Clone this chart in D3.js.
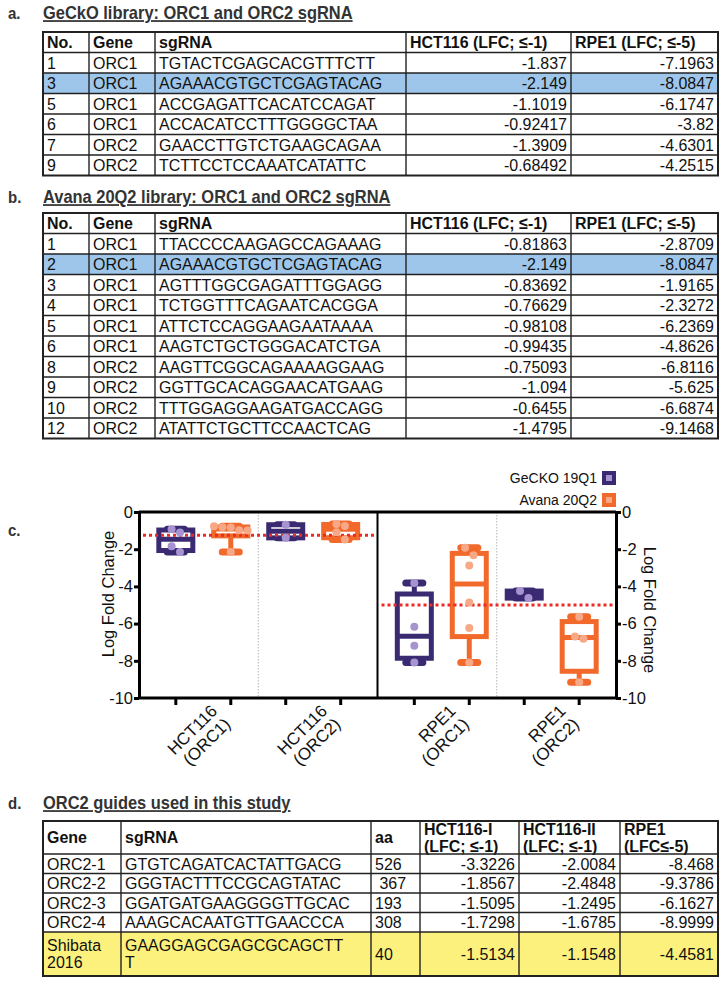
<!DOCTYPE html>
<html><head><meta charset="utf-8">
<script src="https://cdn.jsdelivr.net/npm/d3@7"></script>
<style>
body{margin:0;background:#fff}
svg{display:block}
text{font-family:"Liberation Sans",Arial,Helvetica,sans-serif}
</style>
</head><body>
<svg id="chart" width="728" height="985"></svg>
<script>
// ---------------- DATA ----------------
const abColumns = ["No.", "Gene", "sgRNA", "HCT116 (LFC; ≤-1)", "RPE1 (LFC; ≤-5)"];

const geckoNo = ["1", "3", "5", "6", "7", "9"];
const geckoGene = ["ORC1", "ORC1", "ORC1", "ORC1", "ORC2", "ORC2"];
const geckoSgRNA = ["TGTACTCGAGCACGTTTCTT", "AGAAACGTGCTCGAGTACAG", "ACCGAGATTCACATCCAGAT",
  "ACCACATCCTTTGGGGCTAA", "GAACCTTGTCTGAAGCAGAA", "TCTTCCTCCAAATCATATTC"];
const geckoHCT116 = [-1.837, -2.149, -1.1019, -0.92417, -1.3909, -0.68492];
const geckoRPE1 = [-7.1963, -8.0847, -6.1747, -3.82, -4.6301, -4.2515];

const avanaNo = ["1", "2", "3", "4", "5", "6", "8", "9", "10", "12"];
const avanaGene = ["ORC1", "ORC1", "ORC1", "ORC1", "ORC1", "ORC1", "ORC2", "ORC2", "ORC2", "ORC2"];
const avanaSgRNA = ["TTACCCCAAGAGCCAGAAAG", "AGAAACGTGCTCGAGTACAG", "AGTTTGGCGAGATTTGGAGG",
  "TCTGGTTTCAGAATCACGGA", "ATTCTCCAGGAAGAATAAAA", "AAGTCTGCTGGGACATCTGA",
  "AAGTTCGGCAGAAAAGGAAG", "GGTTGCACAGGAACATGAAG", "TTTGGAGGAAGATGACCAGG", "ATATTCTGCTTCCAACTCAG"];
const avanaHCT116 = [-0.81863, -2.149, -0.83692, -0.76629, -0.98108, -0.99435, -0.75093, -1.094, -0.6455, -1.4795];
const avanaRPE1 = [-2.8709, -8.0847, -1.9165, -2.3272, -6.2369, -4.8626, -6.8116, -5.625, -6.6874, -9.1468];

const dColumns = ["Gene", "sgRNA", "aa", "HCT116-I\n(LFC; ≤-1)", "HCT116-II\n(LFC; ≤-1)", "RPE1\n(LFC≤-5)"];
const guideGene = ["ORC2-1", "ORC2-2", "ORC2-3", "ORC2-4", "Shibata\n2016"];
const guideSgRNA = ["GTGTCAGATCACTATTGACG", "GGGTACTTTCCGCAGTATAC", "GGATGATGAAGGGGTTGCAC",
  "AAAGCACAATGTTGAACCCA", "GAAGGAGCGAGCGCAGCTT\nT"];
const guideAA = ["526", " 367", "193", "308", "40"];
const guideHCT116I = [-3.3226, -1.8567, -1.5095, -1.7298, -1.5134];
const guideHCT116II = [-2.0084, -2.4848, -1.2495, -1.6785, -1.1548];
const guideRPE1 = [-8.468, -9.3786, -6.1627, -8.9999, -4.4581];

const cellLines = ["HCT116", "RPE1"];
const genes = ["ORC1", "ORC2"];
const libraries = ["GeCKO 19Q1", "Avana 20Q2"];
const thresholds = [-1.25, -5];
const yTicks = [0, -2, -4, -6, -8, -10];

// ---------------- STYLE / LAYOUT ----------------
const libColor = {"GeCKO 19Q1": "#3a2a72", "Avana 20Q2": "#f26a2b"};
const libLight = {"GeCKO 19Q1": "#a793d0", "Avana 20Q2": "#f7a887"};
const svg = d3.select("#chart");
const SX = 0.94; // slightly condensed lettering, as in the figure

function narrowText(parent, x, y, str, size, bold, anchor, fill) {
  return parent.append("text")
    .attr("transform", `translate(${x},${y}) scale(${SX},1)`)
    .attr("dy", "0.35em").attr("font-size", size)
    .attr("font-weight", bold ? "bold" : "normal")
    .attr("text-anchor", anchor || "start")
    .attr("fill", fill || "#111")
    .style("white-space", "pre").text(str);
}

function sectionTitle(letter, title, y) {
  narrowText(svg, 8, y, letter, 16, true, "start", "#333");
  narrowText(svg, 43, y, title, 17.5, true, "start", "#333").style("text-decoration", "underline");
}

function drawTable(o) {
  const g = svg.append("g");
  const cols = o.cols;
  let yy = o.top + o.headerH;
  const rowTops = o.rowH.map(h => { const t = yy; yy += h; return t; });
  const bottom = yy;
  if (o.highlight != null) {
    g.append("rect").attr("x", cols[0]).attr("y", rowTops[o.highlight])
      .attr("width", cols[cols.length - 1] - cols[0]).attr("height", o.rowH[o.highlight])
      .attr("fill", o.hlColor);
  }
  const lineH = 17;
  function cellText(str, j, cy, bold, align) {
    const lines = String(str).split("\n");
    const x = align === "end" ? cols[j + 1] - 4 : cols[j] + 4;
    lines.forEach((ln, k) => {
      narrowText(g, x, cy + (k - (lines.length - 1) / 2) * lineH, ln, 17, bold, align);
    });
  }
  o.header.forEach((h, j) => cellText(h, j, o.top + o.headerH / 2, true, "start"));
  o.rows.forEach((row, i) => row.forEach((c, j) =>
    cellText(c, j, rowTops[i] + o.rowH[i] / 2, false, o.aligns[j])));
  const hs = [o.top, o.top + o.headerH, ...rowTops.slice(1), bottom];
  hs.forEach((h, k) => g.append("line").attr("x1", cols[0] - 1).attr("x2", cols[cols.length - 1] + 1)
    .attr("y1", h).attr("y2", h).attr("stroke", "#222")
    .attr("stroke-width", (k === 0 || k === hs.length - 1) ? 2 : 1.4));
  cols.forEach((xx, k) => g.append("line").attr("x1", xx).attr("x2", xx)
    .attr("y1", o.top).attr("y2", bottom).attr("stroke", "#222")
    .attr("stroke-width", (k === 0 || k === cols.length - 1) ? 2 : 1.4));
}

const fmt = v => String(v);

// ---------- a ----------
sectionTitle("a.", "GeCkO library: ORC1 and ORC2 sgRNA", 13);
drawTable({
  top: 32, headerH: 20.5, rowH: geckoNo.map(() => 20.5),
  cols: [43, 89, 155, 406, 571, 718],
  header: abColumns,
  rows: geckoNo.map((n, i) => [n, geckoGene[i], geckoSgRNA[i], fmt(geckoHCT116[i]), fmt(geckoRPE1[i])]),
  aligns: ["start", "start", "start", "end", "end"],
  highlight: 1, hlColor: "#9ec6ea"
});

// ---------- b ----------
sectionTitle("b.", "Avana 20Q2 library: ORC1 and ORC2 sgRNA", 197);
drawTable({
  top: 213, headerH: 20.5, rowH: avanaNo.map(() => 20.5),
  cols: [43, 89, 155, 406, 571, 718],
  header: abColumns,
  rows: avanaNo.map((n, i) => [n, avanaGene[i], avanaSgRNA[i], fmt(avanaHCT116[i]), fmt(avanaRPE1[i])]),
  aligns: ["start", "start", "start", "end", "end"],
  highlight: 1, hlColor: "#9ec6ea"
});

// ---------- c : box plot ----------
narrowText(svg, 8, 530, "c.", 16, true, "start", "#333");

const y = d3.scaleLinear().domain([-10, 0]).range([698, 512]);
const panelX = d3.scaleBand().domain(cellLines).range([139, 616]);
const boxKeys = [];
genes.forEach(g => libraries.forEach(l => boxKeys.push(g + "|" + l)));
const boxX = d3.scalePoint().domain(boxKeys).range([0, panelX.bandwidth()]).padding(0.67);

const source = {
  "GeCKO 19Q1": {gene: geckoGene, HCT116: geckoHCT116, RPE1: geckoRPE1},
  "Avana 20Q2": {gene: avanaGene, HCT116: avanaHCT116, RPE1: avanaRPE1}
};

function prismQuantile(s, p) {
  const n = s.length, pos = (n + 1) * p;
  if (pos <= 1) return s[0];
  if (pos >= n) return s[n - 1];
  const lo = Math.floor(pos);
  return s[lo - 1] + (pos - lo) * (s[lo] - s[lo - 1]);
}

const plot = svg.append("g");
cellLines.forEach(c => {
  const xm = panelX(c) + panelX.bandwidth() / 2;
  plot.append("line").attr("x1", xm).attr("x2", xm).attr("y1", y(0)).attr("y2", y(-10))
    .attr("stroke", "#b5b5b5").attr("stroke-width", 1).attr("stroke-dasharray", "1.5 1.5");
});

const boxes = [];
cellLines.forEach(c => genes.forEach(gn => libraries.forEach(lib => {
  const src = source[lib];
  const vals = src[c].filter((v, i) => src.gene[i] === gn);
  const s = vals.slice().sort((a, b) => a - b);
  boxes.push({c, gn, lib, vals,
    min: s[0], max: s[s.length - 1],
    q1: prismQuantile(s, 0.25), med: prismQuantile(s, 0.5), q3: prismQuantile(s, 0.75),
    cx: panelX(c) + boxX(gn + "|" + lib)});
})));

const halfW = 17, capHalf = 8.5;
boxes.forEach(b => {
  const col = libColor[b.lib];
  const g = plot.append("g");
  g.append("line").attr("x1", b.cx).attr("x2", b.cx).attr("y1", y(b.max)).attr("y2", y(b.q3))
    .attr("stroke", col).attr("stroke-width", 5);
  g.append("line").attr("x1", b.cx).attr("x2", b.cx).attr("y1", y(b.q1)).attr("y2", y(b.min))
    .attr("stroke", col).attr("stroke-width", 5);
  [b.max, b.min].forEach(v => g.append("line")
    .attr("x1", b.cx - capHalf).attr("x2", b.cx + capHalf).attr("y1", y(v)).attr("y2", y(v))
    .attr("stroke", col).attr("stroke-width", 7).attr("stroke-linecap", "round"));
  g.append("rect").attr("x", b.cx - halfW).attr("width", halfW * 2)
    .attr("y", y(b.q3)).attr("height", Math.max(0, y(b.q1) - y(b.q3)))
    .attr("fill", "#fff").attr("stroke", col).attr("stroke-width", 5);
  g.append("line").attr("x1", b.cx - halfW).attr("x2", b.cx + halfW)
    .attr("y1", y(b.med)).attr("y2", y(b.med)).attr("stroke", col).attr("stroke-width", 5);
});

cellLines.forEach((c, i) => {
  plot.append("line").attr("x1", panelX(c) + 4).attr("x2", panelX(c) + panelX.bandwidth())
    .attr("y1", y(thresholds[i])).attr("y2", y(thresholds[i]))
    .attr("stroke", "#ee2a24").attr("stroke-width", 3).attr("stroke-dasharray", "3 3");
});

const r = 4;
boxes.forEach(b => {
  const pts = b.vals.map(v => ({v, py: y(v)})).sort((a, c) => a.py - c.py);
  const clusters = [];
  pts.forEach(p => {
    const last = clusters[clusters.length - 1];
    if (last && p.py - last[0].py < 2 * r) last.push(p); else clusters.push([p]);
  });
  clusters.forEach(cl => cl.forEach((p, k) => {
    plot.append("circle").attr("cx", b.cx + (k - (cl.length - 1) / 2) * 2.1 * r).attr("cy", p.py)
      .attr("r", r).attr("fill", libLight[b.lib]);
  }));
});

const axStyle = sel => {
  sel.selectAll("path.domain").attr("stroke", "#000").attr("stroke-width", 3);
  sel.selectAll(".tick line").attr("stroke", "#000").attr("stroke-width", 3);
  sel.selectAll(".tick text").attr("font-size", 16.5).attr("fill", "#111")
    .attr("font-family", '"Liberation Sans",Arial,sans-serif');
};
svg.append("g").attr("transform", "translate(139,0)")
  .call(d3.axisLeft(y).tickValues(yTicks).tickSize(5).tickSizeOuter(0).tickPadding(1).tickFormat(d => String(d)))
  .call(axStyle);
svg.append("g").attr("transform", "translate(616,0)")
  .call(d3.axisRight(y).tickValues(yTicks).tickSize(5).tickSizeOuter(0).tickPadding(1).tickFormat(d => String(d)))
  .call(axStyle);
svg.append("line").attr("x1", 139).attr("x2", 616).attr("y1", y(0)).attr("y2", y(0))
  .attr("stroke", "#000").attr("stroke-width", 3);
svg.append("line").attr("x1", 139).attr("x2", 616).attr("y1", y(-10)).attr("y2", y(-10))
  .attr("stroke", "#000").attr("stroke-width", 3);
svg.append("line").attr("x1", panelX("RPE1")).attr("x2", panelX("RPE1"))
  .attr("y1", y(0)).attr("y2", y(-10)).attr("stroke", "#000").attr("stroke-width", 2);
boxes.forEach(b => svg.append("line").attr("x1", b.cx).attr("x2", b.cx)
  .attr("y1", y(-10)).attr("y2", y(-10) + 7).attr("stroke", "#000").attr("stroke-width", 3));

svg.append("text").attr("transform", "translate(108,594) rotate(-90)").attr("text-anchor", "middle")
  .attr("dy", "0.35em").attr("font-size", 16.5).attr("fill", "#111").text("Log Fold Change");
svg.append("text").attr("transform", "translate(650,610) rotate(90)").attr("text-anchor", "middle")
  .attr("dy", "0.35em").attr("font-size", 16.5).attr("fill", "#111").text("Log Fold Change");

cellLines.forEach(c => genes.forEach(gn => {
  const cx = panelX(c) + (boxX(gn + "|" + libraries[0]) + boxX(gn + "|" + libraries[1])) / 2;
  const t = svg.append("text").attr("transform", `translate(${cx + 15},712) rotate(-45)`)
    .attr("text-anchor", "end").attr("font-size", 17).attr("fill", "#111");
  t.append("tspan").attr("x", 0).attr("dy", 0).text(c);
  t.append("tspan").attr("x", 0).attr("dy", "1.1em").text(`(${gn})`);
}));

libraries.forEach((lib, i) => {
  const ly = 478 + i * 22;
  svg.append("text").attr("x", 597).attr("y", ly).attr("dy", "0.35em").attr("text-anchor", "end")
    .attr("font-size", 14).attr("fill", "#111").text(lib);
  svg.append("rect").attr("x", 602).attr("y", ly - 7).attr("width", 14).attr("height", 14)
    .attr("fill", libColor[lib]);
  svg.append("rect").attr("x", 606).attr("y", ly - 3).attr("width", 6).attr("height", 6)
    .attr("fill", libLight[lib]);
});

// ---------- d ----------
sectionTitle("d.", "ORC2 guides used in this study", 803);
drawTable({
  top: 821, headerH: 33, rowH: [19.5, 19.5, 19.5, 19.5, 44],
  cols: [43, 121, 371, 420, 519, 620, 718],
  header: dColumns,
  rows: guideGene.map((gn, i) => [gn, guideSgRNA[i], guideAA[i], fmt(guideHCT116I[i]), fmt(guideHCT116II[i]), fmt(guideRPE1[i])]),
  aligns: ["start", "start", "start", "end", "end", "end"],
  highlight: 4, hlColor: "#fdf17e"
});
</script>
</body></html>
